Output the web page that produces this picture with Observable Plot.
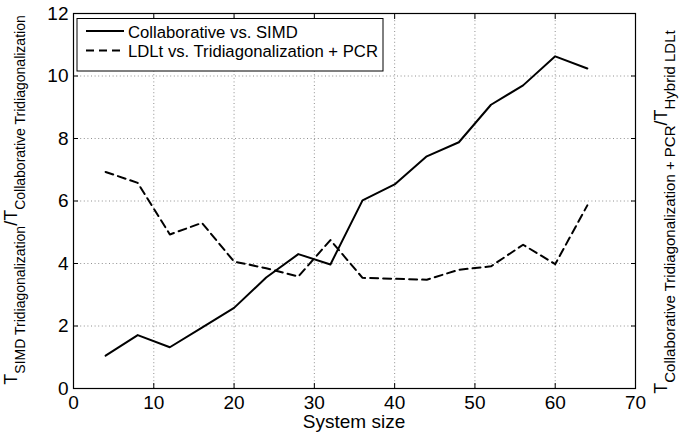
<!DOCTYPE html>
<html>
<head>
<meta charset="utf-8">
<script src="https://cdn.jsdelivr.net/npm/d3@7"></script>
<script src="https://cdn.jsdelivr.net/npm/@observablehq/plot@0.6"></script>
<style>
  html, body { margin: 0; padding: 0; background: #fff; }
  #chart svg { display: block; }
</style>
</head>
<body>
<div id="chart"></div>
<script>
// ---- Data ----
const systemSize = [4, 8, 12, 16, 20, 24, 28, 32, 36, 40, 44, 48, 52, 56, 60, 64];
const collaborativeVsSimd = [1.05, 1.71, 1.32, 1.95, 2.58, 3.55, 4.30, 3.97, 6.02, 6.53, 7.43, 7.88, 9.08, 9.70, 10.63, 10.24];
const ldltVsTridiagPcr = [6.93, 6.58, 4.93, 5.30, 4.06, 3.85, 3.58, 4.75, 3.54, 3.51, 3.48, 3.80, 3.91, 4.60, 3.98, 5.86];
const seriesNames = ["Collaborative vs. SIMD", "LDLt vs. Tridiagonalization + PCR"];
const xTicks = [0, 10, 20, 30, 40, 50, 60, 70];
const yTicks = [0, 2, 4, 6, 8, 10, 12];
const xLabel = "System size";

const solidRows = systemSize.map((s, i) => ({size: s, ratio: collaborativeVsSimd[i]}));
const dashedRows = systemSize.map((s, i) => ({size: s, ratio: ldltVsTridiagPcr[i]}));

const FONT = "'Liberation Sans', Arial, Helvetica, sans-serif";
const W = 681, H = 434;

const gridStyle = {stroke: "#666", strokeOpacity: 0.9, strokeWidth: 0.8, strokeDasharray: "1,2.6"};

const svg = Plot.plot({
  width: W,
  height: H,
  marginLeft: 73,
  marginRight: 46,
  marginTop: 13,
  marginBottom: 46,
  style: {fontFamily: FONT, fontSize: "19px", background: "white", color: "black", overflow: "visible"},
  x: {domain: [0, 70], ticks: xTicks},
  y: {domain: [0, 12], ticks: yTicks},
  marks: [
    Plot.gridX(xTicks, gridStyle),
    Plot.gridY(yTicks, gridStyle),
    Plot.axisX(xTicks, {anchor: "bottom", tickSize: -5, tickPadding: 12, label: null, fontSize: 19}),
    Plot.axisX(xTicks, {anchor: "top", tickSize: -5, tickFormat: () => "", label: null}),
    Plot.axisY(yTicks, {anchor: "left", tickSize: -5, tickPadding: 10, label: null, fontSize: 19}),
    Plot.axisY(yTicks, {anchor: "right", tickSize: -5, tickFormat: () => "", label: null}),
    Plot.lineY(solidRows, {x: "size", y: "ratio", stroke: "black", strokeWidth: 2}),
    Plot.lineY(dashedRows, {x: "size", y: "ratio", stroke: "black", strokeWidth: 2, strokeDasharray: "8,5"}),
    Plot.frame({stroke: "black", strokeWidth: 1.2})
  ]
});

const root = d3.select(svg);

// x-axis title
root.append("text")
  .attr("x", 354).attr("y", 428)
  .attr("text-anchor", "middle")
  .attr("font-family", FONT).attr("font-size", 19)
  .attr("fill", "black")
  .text(xLabel);

// rich y-axis titles (T with subscripts)
function richLabel(cx, cy, parts, subSize) {
  const t = root.append("text")
    .attr("transform", `translate(${cx},${cy}) rotate(-90)`)
    .attr("text-anchor", "middle")
    .attr("font-family", FONT)
    .attr("fill", "black");
  let shifted = false;
  for (const [str, sub] of parts) {
    const sp = t.append("tspan").text(str);
    if (sub) {
      sp.attr("font-size", subSize).attr("dy", shifted ? 0 : 8);
      shifted = true;
    } else {
      sp.attr("font-size", 18).attr("dy", shifted ? -8 : 0);
      shifted = false;
    }
  }
}
richLabel(17, 200, [["T", false], ["SIMD Tridiagonalization", true], ["/T", false], ["Collaborative Tridiagonalization", true]], 14);
richLabel(667, 212, [["T", false], ["Collaborative Tridiagonalization + PCR", true], ["/T", false], ["Hybrid LDLt", true]], 15);

// legend
const lg = root.append("g").attr("font-family", FONT).attr("font-size", 16.7).attr("text-anchor", "start");
lg.append("rect").attr("x", 77).attr("y", 18.5).attr("width", 306).attr("height", 52.5)
  .attr("fill", "white").attr("stroke", "black").attr("stroke-width", 1);
const legendRows = [
  {name: seriesNames[0], dash: null, y: 31},
  {name: seriesNames[1], dash: "8,5", y: 50.5}
];
for (const r of legendRows) {
  lg.append("line").attr("x1", 86).attr("x2", 124).attr("y1", r.y).attr("y2", r.y)
    .attr("stroke", "black").attr("stroke-width", 2).attr("stroke-dasharray", r.dash);
  lg.append("text").attr("x", 128).attr("y", r.y + 6.5).attr("text-anchor", "start")
    .attr("fill", "black").text(r.name);
}

document.getElementById("chart").appendChild(svg);
</script>
</body>
</html>
